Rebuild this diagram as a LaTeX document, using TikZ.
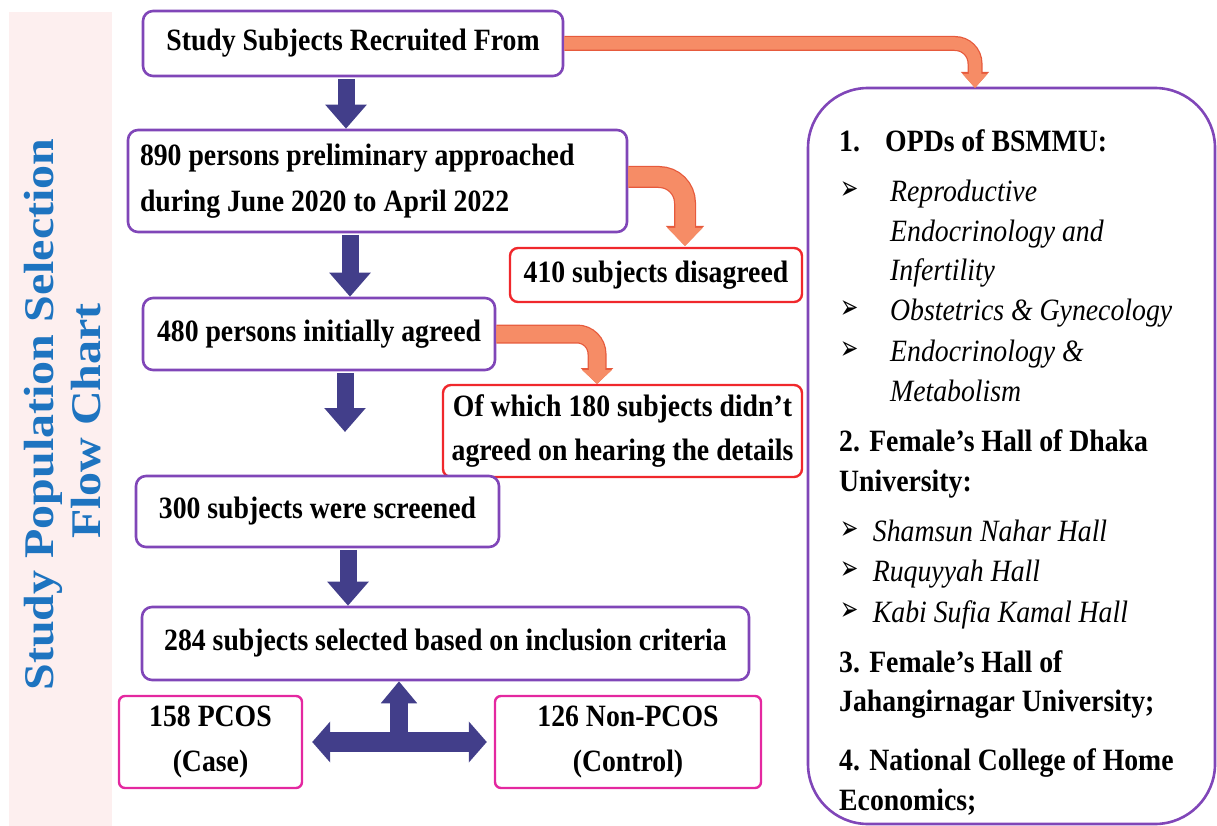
\documentclass[tikz,border=0pt]{standalone}
\usepackage{fontspec}
\setmainfont{Liberation Serif}[FakeStretch=0.895]
\newfontfamily\titlefont{Liberation Serif}
\newfontfamily\symfont{DejaVu Sans}
\usetikzlibrary{arrows.meta,calc}

\definecolor{boxpurple}{RGB}{128,70,184}
\definecolor{navy}{RGB}{66,62,138}
\definecolor{salmon}{RGB}{246,140,102}
\definecolor{salmonedge}{RGB}{230,90,60}
\definecolor{alertred}{RGB}{240,40,44}
\definecolor{groupmag}{RGB}{228,40,160}
\definecolor{panelpink}{RGB}{253,239,239}
\definecolor{titleblue}{RGB}{30,116,192}

\tikzset{
  every node/.style={inner sep=0pt},
  bodyfont/.style={font=\fontsize{31}{45}\selectfont\bfseries},
  flow/.style={bodyfont, draw=boxpurple, line width=2.6pt, rounded corners=10pt, fill=white, align=center},
  alert/.style={bodyfont, draw=alertred, line width=2.4pt, rounded corners=8pt, fill=white, align=center},
  group/.style={bodyfont, draw=groupmag, line width=2.4pt, rounded corners=6pt, fill=white, align=center},
  downarrow/.style={draw=navy, line width=17pt, shorten <=1.5pt, -{Triangle[width=40pt,length=24pt]}},
  sitehead/.style={anchor=base west, font=\fontsize{31}{40}\selectfont\bfseries},
  siteitem/.style={anchor=base west, font=\fontsize{31}{40}\selectfont\itshape},
  bullet/.style={anchor=west, inner ysep=-5pt, xscale=0.78, yscale=1.2, font=\symfont\fontsize{28}{28}\selectfont},
  titleline/.style={anchor=base, rotate=90, yscale=0.88, text=titleblue,
                    font=\titlefont\fontsize{48}{48}\selectfont\bfseries},
}

\begin{document}
\begin{tikzpicture}[x=1pt, y=-1pt]
\useasboundingbox (0,0) rectangle (1217,826);

% side title panel
\fill[panelpink] (9,12) rectangle (112,826);
\node[titleline] (title1) at (53,414.5) {Study Population Selection};
\node[titleline] (title2) at (100,421) {Flow Chart};

% main flow boxes
\node[flow, minimum width=420pt, minimum height=65pt] (s1) at (353,43.5) {Study Subjects Recruited From};
\node[flow, minimum width=499pt, minimum height=102pt, text width=475pt, align=flush left,
      font=\fontsize{31}{46}\selectfont\bfseries] (b2) at (377.5,181)
      {890 persons preliminary approached\\during June 2020 to April 2022};
\node[alert, minimum width=292pt, minimum height=54pt] (dis) at (656,275) {410 subjects disagreed};
\node[flow, minimum width=352pt, minimum height=72pt] (b3) at (319,334) {480 persons initially agreed};
\node[alert, minimum width=359pt, minimum height=92pt, font=\fontsize{31}{44}\selectfont\bfseries] (det) at (622.5,431)
      {Of which 180 subjects didn’t\\agreed on hearing the details};
\node[flow, minimum width=363pt, minimum height=71pt] (scr) at (317.5,511.5) {300 subjects were screened};
\node[flow, minimum width=607pt, minimum height=73pt] (sel) at (445.5,643.5) {284 subjects selected based on inclusion criteria};
\node[group, minimum width=183pt, minimum height=92pt, font=\fontsize{31}{45}\selectfont\bfseries] (case) at (210.5,742)
      {158 PCOS\\(Case)};
\node[group, minimum width=266pt, minimum height=92pt, font=\fontsize{31}{45}\selectfont\bfseries] (ctrl) at (628,742)
      {126 Non-PCOS\\(Control)};

% recruitment sites box
\node[draw=boxpurple, line width=2.6pt, rounded corners=60pt,
      minimum width=407pt, minimum height=736pt] (opd) at (1011.5,456) {};

\node[sitehead] (h1n) at (839,152) {1.};
\node[sitehead] (h1t) at (885,152) {OPDs of BSMMU:};
\node[bullet] (k1) at (840,190.7) {➢};
\node[siteitem] (i1a) at (890,201.7) {Reproductive};
\node[siteitem] (i1b) at (890,241.7) {Endocrinology and};
\node[siteitem] (i1c) at (890,280) {Infertility};
\node[bullet] (k2) at (840,309.7) {➢};
\node[siteitem] (i2) at (890,320.7) {Obstetrics \& Gynecology};
\node[bullet] (k3) at (840,350.7) {➢};
\node[siteitem] (i3a) at (890,361.7) {Endocrinology \&};
\node[siteitem] (i3b) at (890,401.7) {Metabolism};

\node[sitehead] (h2a) at (839,451.7) {2. Female’s Hall of Dhaka};
\node[sitehead] (h2b) at (839,491.7) {University:};
\node[bullet] (k4) at (840,530.7) {➢};
\node[siteitem] (j1) at (872.7,541.7) {Shamsun Nahar Hall};
\node[bullet] (k5) at (840,570.7) {➢};
\node[siteitem] (j2) at (872.7,581.7) {Ruquyyah Hall};
\node[bullet] (k6) at (840,611.7) {➢};
\node[siteitem] (j3) at (872.7,622.7) {Kabi Sufia Kamal Hall};

\node[sitehead] (h3a) at (839,672.7) {3. Female’s Hall of};
\node[sitehead] (h3b) at (839,711.7) {Jahangirnagar University;};
\node[sitehead] (h4a) at (839,770) {4. National College of Home};
\node[sitehead] (h4b) at (839,810) {Economics;};

% downward block arrows
\coordinate (c1) at (346,0);
\coordinate (c2) at (350,0);
\coordinate (c4) at (348,0);
\coordinate (drop) at (345,432);
\draw[downarrow] (s1.south -| c1) -- (b2.north -| c1);
\draw[downarrow] (b2.south -| c2) -- (b3.north -| c2);
\draw[downarrow] (b3.south -| drop) -- (drop);
\draw[downarrow] (scr.south -| c4) -- (sel.north -| c4);

% split into case and control groups
\coordinate (tee) at (399,742);
\draw[navy, line width=20pt, {Triangle[width=40pt,length=18pt]}-{Triangle[width=40pt,length=18pt]},
      shorten <=9pt, shorten >=7pt] (case.east) -- (ctrl.west);
\draw[navy, line width=18pt, -{Triangle[width=35pt,length=22pt]}] (tee) -- (tee |- sel.south);

% bent side arrows
\coordinate (t1) at (975,88);
\coordinate (t2) at (685,246);
\coordinate (t3) at (597,384);
\draw[salmonedge, line width=15pt, rounded corners=20pt, -{Triangle[width=27pt,length=16pt]}] (s1.east) -| (t1);
\draw[salmon, line width=12.5pt, rounded corners=20pt, -{Triangle[width=24pt,length=14pt]}] (s1.east) -| (t1);
\draw[salmonedge, line width=22pt, rounded corners=26pt, -{Triangle[width=37pt,length=20pt]}] ($(b2.east)+(0,-4)$) -| (t2);
\draw[salmon, line width=19.5pt, rounded corners=26pt, -{Triangle[width=34pt,length=18pt]}] ($(b2.east)+(0,-4)$) -| (t2);
\draw[salmonedge, line width=19pt, rounded corners=20pt, -{Triangle[width=32pt,length=16pt]}] (b3.east) -| (t3);
\draw[salmon, line width=16.5pt, rounded corners=20pt, -{Triangle[width=29pt,length=14pt]}] (b3.east) -| (t3);
\end{tikzpicture}
\end{document}
